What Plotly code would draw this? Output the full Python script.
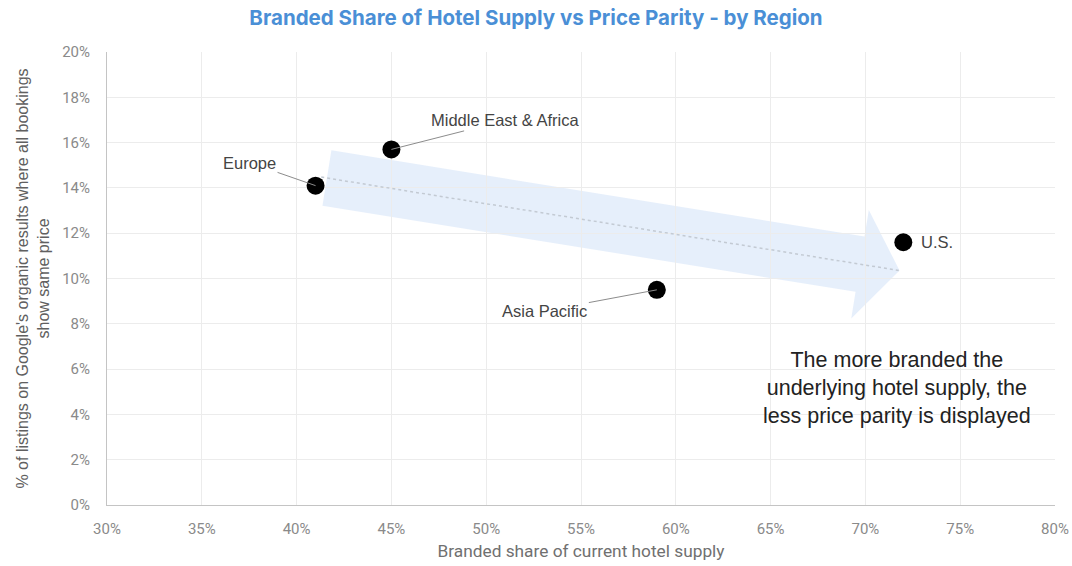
import numpy as np
import plotly.graph_objects as go

# Regional data: branded share of hotel supply (%) vs price-parity share (%)
regions = ["Europe", "Middle East & Africa", "Asia Pacific", "U.S."]
branded_share = [41.0, 45.0, 59.0, 72.0]
price_parity = [14.1, 15.7, 9.5, 11.6]

x_ticks = [30, 35, 40, 45, 50, 55, 60, 65, 70, 75, 80]
y_ticks = [0, 2, 4, 6, 8, 10, 12, 14, 16, 18, 20]

W, H = 1072, 566
M = dict(l=107, r=17, t=52, b=61)
PW = W - M["l"] - M["r"]
PH = H - M["t"] - M["b"]
X0, X1, Y0, Y1 = 30, 80, 0, 20
sx = PW / (X1 - X0)   # px per x unit
sy = PH / (Y1 - Y0)   # px per y unit

SANS = "Roboto, Arial, sans-serif"
ARIAL = "Liberation Sans, Arial, sans-serif"
TICK = "#8a8a8a"

# linear trend through the four regions
slope, intercept = np.polyfit(branded_share, price_parity, 1)
trend_x = np.array([41.3, 71.8])
trend_y = slope * trend_x + intercept

# wide arrow following the trend, built in pixel space then mapped to data
def to_px(x, y):
    return np.array([(x - X0) * sx, (y - Y0) * sy])

def to_data(p):
    return p[0] / sx + X0, p[1] / sy + Y0

tail = to_px(41.6, slope * 41.6 + intercept)
tip = to_px(71.8, slope * 71.8 + intercept)
u = (tip - tail) / np.linalg.norm(tip - tail)
n = np.array([-u[1], u[0]])
body_w, head_w, head_len = 28, 55, 40
base = tip - head_len * u
pts = [tail + body_w * n, base + body_w * n, base + head_w * n, tip,
       base - head_w * n, base - body_w * n, tail - body_w * n]
path = "M " + " L ".join("{:.4f},{:.4f}".format(*to_data(p)) for p in pts) + " Z"

fig = go.Figure()

fig.add_shape(type="path", path=path, xref="x", yref="y", layer="below",
              fillcolor="rgba(222,233,249,0.75)", line=dict(width=0))

fig.add_trace(go.Scatter(x=trend_x, y=trend_y, mode="lines",
                         line=dict(color="#c3cad3", width=1.5, dash="dot"),
                         hoverinfo="skip", showlegend=False))

fig.add_trace(go.Scatter(x=branded_share, y=price_parity, mode="markers",
                         marker=dict(size=18, color="#000000"),
                         text=regions, showlegend=False))

# region labels with leader lines (pixel offsets)
label_offsets = {
    "Europe": (-66, -23, True),
    "Middle East & Africa": (114, -29, True),
    "Asia Pacific": (-112, 21, True),
    "U.S.": (34, 0, False),
}
label_font = dict(family=ARIAL, size=16.5, color="#444444")
for name, x, y in zip(regions, branded_share, price_parity):
    ax, ay, arrow = label_offsets[name]
    if arrow:
        fig.add_annotation(x=x, y=y, text=name, showarrow=True, ax=ax, ay=ay,
                           arrowhead=0, arrowwidth=1, arrowcolor="#8c8c8c",
                           font=label_font)
    else:
        fig.add_annotation(x=x, y=y, text=name, showarrow=False, xshift=ax,
                           yshift=ay, font=label_font)

fig.add_annotation(xref="paper", yref="paper", x=0.833, y=0.258,
                   xanchor="center", yanchor="middle",
                   text="The more branded the<br>underlying hotel supply, the<br>less price parity is displayed",
                   showarrow=False, align="center",
                   font=dict(family=ARIAL, size=21.5, color="#222222"))

fig.update_layout(
    width=W, height=H,
    margin=M,
    paper_bgcolor="white", plot_bgcolor="white",
    title=dict(text="<b>Branded Share of Hotel Supply vs Price Parity - by Region</b>",
               x=0.5, xanchor="center", y=0.968, yanchor="middle",
               font=dict(family="Inter, Roboto, Arial, sans-serif", size=20.5, color="#4a8fd6")),
    xaxis=dict(range=[X0, X1], tickvals=x_ticks,
               ticktext=[f"{v}%" for v in x_ticks],
               showgrid=True, gridcolor="#ececec", gridwidth=1,
               showline=True, linecolor="#c4c4c4", linewidth=1,
               zeroline=False, ticks="", ticklen=0, automargin=False,
               ticklabelstandoff=10,
               tickfont=dict(family=SANS, size=15, color=TICK),
               title=dict(text="Branded share of current hotel supply",
                          font=dict(family=SANS, size=17.3, color="#707070"), standoff=7)),
    yaxis=dict(range=[Y0, Y1], tickvals=y_ticks,
               ticktext=[f"{v}%" for v in y_ticks],
               showgrid=True, gridcolor="#ececec", gridwidth=1,
               showline=True, linecolor="#c4c4c4", linewidth=1,
               zeroline=False, ticks="", ticklen=0, automargin=False,
               ticklabelstandoff=13,
               tickfont=dict(family=SANS, size=15, color=TICK),
               title=dict(text="% of listings on Google's organic results where all bookings<br>show same price",
                          font=dict(family=ARIAL, size=16, color="#606060"),
                          standoff=8)),
)

fig.write_html("out.html")
